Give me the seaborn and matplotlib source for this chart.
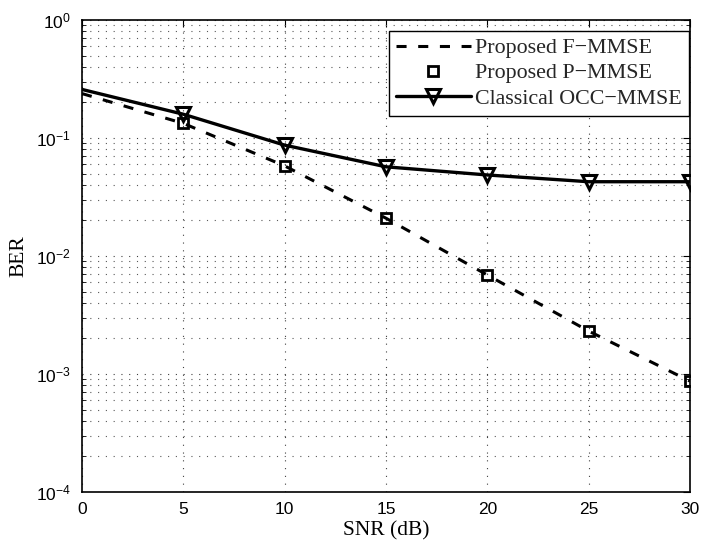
import matplotlib
matplotlib.use("Agg")
import matplotlib.pyplot as plt
import seaborn as sns
import pandas as pd
import numpy as np
from matplotlib.ticker import LogLocator, NullFormatter, FixedLocator

# ---- data ----
snr = [0, 5, 10, 15, 20, 25, 30]
f_mmse = [0.238, 0.133, 0.058, 0.0209, 0.0069, 0.00231, 0.00087]
p_snr = [5, 10, 15, 20, 25, 30]
p_mmse = [0.133, 0.058, 0.0209, 0.0069, 0.00231, 0.00087]
classical = [0.258, 0.159, 0.087, 0.057, 0.0486, 0.0426, 0.0426]
classical_marker_snr = [5, 10, 15, 20, 25, 30]
labels = ["Proposed F\u2212MMSE", "Proposed P\u2212MMSE", "Classical OCC\u2212MMSE"]
xticks = [0, 5, 10, 15, 20, 25, 30]

sns.set_theme(style="white")
plt.rcParams["font.family"] = ["Liberation Sans", "DejaVu Sans"]
plt.rcParams["mathtext.fontset"] = "custom"
plt.rcParams["mathtext.rm"] = "Liberation Sans"
plt.rcParams["mathtext.it"] = "Liberation Sans:italic"

fig = plt.figure(figsize=(7.03, 5.5), dpi=100)
ax = fig.add_axes([82 / 703, 58 / 550, 608 / 703, 472 / 550])

df_f = pd.DataFrame({"snr": snr, "ber": f_mmse})
df_p = pd.DataFrame({"snr": p_snr, "ber": p_mmse})
df_c = pd.DataFrame({"snr": snr, "ber": classical})

sns.lineplot(data=df_f, x="snr", y="ber", ax=ax, color="black", lw=2.2,
             label=labels[0], zorder=3)
sns.lineplot(data=df_p, x="snr", y="ber", ax=ax, color="black", linestyle="none",
             marker="s", markersize=6.8, markeredgewidth=2.0,
             markerfacecolor="none", markeredgecolor="black",
             label=labels[1], zorder=4)
sns.lineplot(data=df_c, x="snr", y="ber", ax=ax, color="black", lw=2.4,
             marker="v", markersize=9.5, markeredgewidth=2.2,
             markerfacecolor="none", markeredgecolor="black",
             markevery=[snr.index(v) for v in classical_marker_snr],
             label=labels[2], zorder=3)

lines = ax.get_lines()
lines[0].set_dashes((3.3, 3.8))
lines[0].set_dash_capstyle("butt")

ax.set_yscale("log")
ax.set_xlim(0, 30)
ax.set_ylim(1e-4, 1)
ax.xaxis.set_major_locator(FixedLocator(xticks))
ax.yaxis.set_major_locator(LogLocator(base=10, numticks=10))
ax.yaxis.set_minor_locator(LogLocator(base=10, subs=np.arange(2, 10), numticks=20))
ax.yaxis.set_minor_formatter(NullFormatter())

ax.grid(True, which="major", axis="x", color="0.25", lw=0.8, linestyle=(0, (1, 6)))
ax.grid(True, which="major", axis="y", color="0.25", lw=0.8, linestyle=(0, (1, 6)))
ax.grid(True, which="minor", axis="y", color="0.35", lw=0.8, linestyle=(0, (1, 6)))

ax.tick_params(which="major", direction="in", length=5, width=0.8, top=True, right=True,
               labelsize=12.5, pad=7, color="black", labelcolor="black")
ax.tick_params(which="minor", direction="in", length=3, width=0.6, left=True, right=True,
               color="black")
ax.tick_params(axis="y", which="major", pad=8)

for s in ax.spines.values():
    s.set_color("black")
    s.set_linewidth(1.2)

ax.set_xlabel("SNR (dB)", fontfamily="Liberation Serif", fontsize=15.5, color="black", labelpad=3)
ax.set_ylabel("BER", fontfamily="Liberation Serif", fontsize=15.5, color="black", labelpad=5)

leg = ax.legend(loc="upper right", bbox_to_anchor=(0.998, 0.977), borderaxespad=0,
                prop={"family": "Liberation Serif", "size": 15.8},
                frameon=True, fancybox=False, edgecolor="black", framealpha=1,
                handlelength=3.4, handletextpad=0.2, labelspacing=0.22, borderpad=0.32)
leg.get_frame().set_linewidth(1.0)
leg_lines = leg.get_lines()
leg_lines[0].set_dashes((3.3, 3.8))

fig.savefig("out.png", dpi=100)
